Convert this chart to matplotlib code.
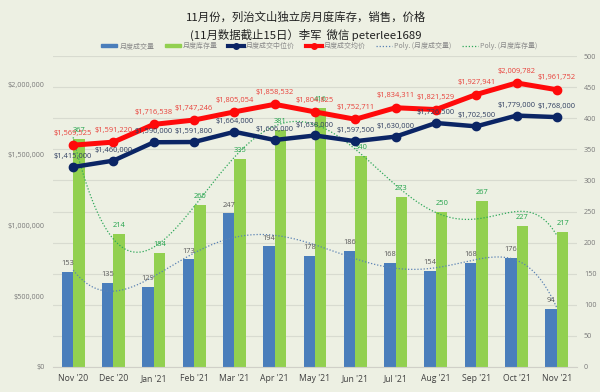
import numpy as np
import matplotlib
matplotlib.use("Agg")
import matplotlib.pyplot as plt
from matplotlib.lines import Line2D
from matplotlib.patches import Patch

plt.rcParams['font.family'] = ['Noto Sans CJK SC', 'DejaVu Sans']

months = ["Nov '20", "Dec '20", "Jan '21", "Feb '21", "Mar '21", "Apr '21", "May '21",
          "Jun '21", "Jul '21", "Aug '21", "Sep '21", "Oct '21", "Nov '21"]
sales = [153, 135, 129, 173, 247, 194, 178, 186, 168, 154, 168, 176, 94]
inventory = [367, 214, 184, 260, 335, 381, 416, 340, 273, 250, 267, 227, 217]
median_price = [1415000, 1460000, 1590000, 1591800, 1664000, 1606000, 1638000,
                1597500, 1630000, 1726500, 1702500, 1779000, 1768000]
avg_price = [1569525, 1591220, 1716538, 1747246, 1805054, 1858532, 1804825,
             1752711, 1834311, 1821529, 1927941, 2009782, 1961752]
price_ticks = [0, 500000, 1000000, 1500000, 2000000]

BG = '#EDF0E3'
BLUE = '#4A7EBB'
GREEN = '#92D050'
NAVY = '#0B2565'
RED = '#FF0A0A'
GRAY = '#7A7A7A'
lblfont = ['Open Sans', 'DejaVu Sans']
LFS = 5.4

fig = plt.figure(figsize=(6.0, 3.92), dpi=100, facecolor=BG)
ax = fig.add_axes([0.0883, 0.0638, 0.8734, 0.7932])
ax.set_facecolor(BG)
axp = ax.twinx()

x = np.arange(len(months))
w = 0.285

ax.bar(x - w/2, sales, w, color=BLUE, zorder=2)
ax.bar(x + w/2, inventory, w, color=GREEN, zorder=2)
ax.set_ylim(0, 500)
ax.set_xlim(-0.5, len(months) - 0.5)
ax.set_yticks(np.arange(0, 501, 50))
ax.grid(axis='y', color='#D8DBD0', linewidth=0.8, zorder=0)
ax.set_axisbelow(True)
for s in ['top', 'left', 'right']:
    ax.spines[s].set_visible(False)
ax.spines['bottom'].set_color('#D0D0C8')
ax.set_xticks(x)
ax.set_xticklabels(months, fontsize=6.2, color='#404040', family=lblfont)
ax.tick_params(axis='x', length=0, pad=5)

# polynomial trendlines (Excel-style Poly. trendline fitted to the data)
xf = np.linspace(0, len(months) - 1, 300)
ps = np.polyfit(x, sales, 6)
pi = np.polyfit(x, inventory, 6)
ax.plot(xf, np.polyval(ps, xf), color='#5A82B4', linestyle=(0, (1, 1.5)), linewidth=0.9, zorder=3)
ax.plot(xf, np.polyval(pi, xf), color='#2FA85A', linestyle=(0, (1, 1.5)), linewidth=0.9, zorder=3)

for i in range(len(months)):
    ax.annotate(str(sales[i]), (x[i] - w/2, sales[i]), xytext=(0, 6), textcoords='offset points',
                ha='center', va='center', fontsize=LFS, color='#595959', family=lblfont, zorder=4)
    ax.annotate(str(inventory[i]), (x[i] + w/2, inventory[i]), xytext=(0, 6), textcoords='offset points',
                ha='center', va='center', fontsize=LFS, color='#22A34A', family=lblfont, zorder=4)

# right axis for counts, left for prices
ax.yaxis.tick_right()
ax.yaxis.set_label_position('right')
ax.tick_params(axis='y', which='both', left=False, right=False, labelleft=False,
               labelright=True, length=0, labelsize=5.2, labelcolor=GRAY, pad=5)
for lab in ax.get_yticklabels():
    lab.set_family(lblfont)

axp.set_ylim(0, 2200000)
axp.set_yticks(price_ticks)
axp.set_yticklabels(['${:,}'.format(v) for v in price_ticks], family=lblfont)
axp.yaxis.tick_left()
axp.yaxis.set_label_position('left')
axp.tick_params(axis='y', which='both', left=False, right=False, labelleft=True,
                labelright=False, length=0, labelsize=5.2, labelcolor=GRAY, pad=6)
for s in ['top', 'left', 'right', 'bottom']:
    axp.spines[s].set_visible(False)

axp.plot(x, median_price, color=NAVY, linewidth=3.2, marker='o', markersize=6,
         markerfacecolor=NAVY, markeredgecolor=NAVY, zorder=5)
axp.plot(x, avg_price, color=RED, linewidth=3.6, marker='o', markersize=6,
         markerfacecolor=RED, markeredgecolor=RED, zorder=6)
for i in range(len(months)):
    axp.annotate('${:,}'.format(median_price[i]), (x[i], median_price[i]), xytext=(0, 7.5),
                 textcoords='offset points', ha='center', va='center', fontsize=LFS,
                 color='#2F3E60', family=lblfont, zorder=7)
    axp.annotate('${:,}'.format(avg_price[i]), (x[i], avg_price[i]), xytext=(0, 8.5),
                 textcoords='offset points', ha='center', va='center', fontsize=LFS,
                 color='#E8403A', family=lblfont, zorder=7)

fig.text(0.51, 0.957, '11月份，列治文山独立房月度库存，销售，价格', ha='center', va='center',
         fontsize=8.2, color='#202020')
fig.text(0.51, 0.911, '(11月数据截止15日）李军  微信 peterlee1689', ha='center', va='center',
         fontsize=8.2, color='#202020')

handles = [
    Patch(color=BLUE),
    Patch(color=GREEN),
    Line2D([], [], color=NAVY, linewidth=3, marker='o', markersize=4),
    Line2D([], [], color=RED, linewidth=3, marker='o', markersize=4),
    Line2D([], [], color='#5A82B4', linestyle=(0, (1, 1.5)), linewidth=0.9),
    Line2D([], [], color='#2FA85A', linestyle=(0, (1, 1.5)), linewidth=0.9),
]
labels = ['月度成交量', '月度库存量', '月度成交中位价', '月度成交均价',
          'Poly. (月度成交量)', 'Poly. (月度库存量)']
fig.legend(handles, labels, loc='center', bbox_to_anchor=(0.532, 0.883), ncol=6,
           frameon=False, fontsize=5.0, handlelength=2.3, handleheight=0.45,
           columnspacing=1.5, handletextpad=0.3, labelcolor='#8A8A8A')

fig.savefig('out.png', dpi=100, facecolor=BG)
